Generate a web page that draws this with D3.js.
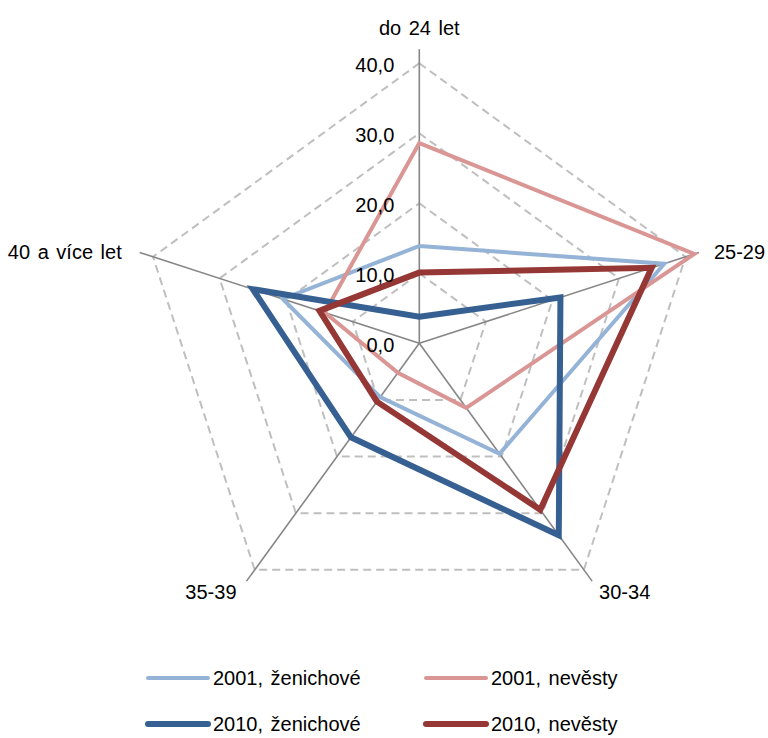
<!DOCTYPE html>
<html>
<head>
<meta charset="utf-8">
<script src="https://cdn.jsdelivr.net/npm/d3@7"></script>
<style>
  html, body { margin: 0; padding: 0; background: #ffffff; }
  svg { display: block; }
  text { font-family: "Liberation Sans", Arial, sans-serif; fill: #000; word-spacing: 2px; }
</style>
</head>
<body>
<svg id="chart" width="768" height="738"></svg>
<script>
// ---- data ----
const categories = ["do 24 let", "25-29", "30-34", "35-39", "40 a více let"];
const seriesNames = ["2001, ženichové", "2001, nevěsty", "2010, ženichové", "2010, nevěsty"];
const groom2001 = [13.9, 36.8, 19.5, 9.5, 20.5];
const bride2001 = [28.6, 41.3, 11.4, 5.2, 14.2];
const groom2010 = [3.8, 21.2, 33.9, 16.6, 25.0];
const bride2010 = [10.1, 34.9, 29.4, 10.3, 15.0];
const tickValues = [0, 10, 20, 30, 40];
const tickLabels = ["0,0", "10,0", "20,0", "30,0", "40,0"];

// ---- layout ----
const cx = 419.3, cy = 343.3;
const rScale = d3.scaleLinear().domain([0, 40]).range([0, 280]);
const axisMax = 42;
const colors = ["#95B3D7", "#D99694", "#376092", "#953735"];
const widths = [4, 4, 6, 6];
const seriesValues = [groom2001, bride2001, groom2010, bride2010];
const fontSize = "20px";

const svg = d3.select("#chart");
const g = svg.append("g").attr("transform", `translate(${cx},${cy})`);

const angle = i => (i / categories.length) * 2 * Math.PI; // clockwise from top
const pt = (i, v) => [Math.sin(angle(i)) * rScale(v), -Math.cos(angle(i)) * rScale(v)];

// grid rings (dashed)
tickValues.filter(t => t > 0).forEach(t => {
  const pts = categories.map((c, i) => pt(i, t));
  g.append("path")
    .attr("d", d3.line()(pts) + "Z")
    .attr("fill", "none")
    .attr("stroke", "#BFBFBF")
    .attr("stroke-width", 2)
    .attr("stroke-dasharray", "8,5");
});

// axis spokes
categories.forEach((c, i) => {
  const [x, y] = pt(i, axisMax);
  g.append("line")
    .attr("x1", 0).attr("y1", 0).attr("x2", x).attr("y2", y)
    .attr("stroke", "#868686")
    .attr("stroke-width", 1.6);
});

// series
const radial = d3.lineRadial()
  .angle((d, i) => angle(i))
  .radius(d => rScale(d))
  .curve(d3.curveLinearClosed);

seriesValues.forEach((vals, s) => {
  g.append("path")
    .attr("d", radial(vals))
    .attr("fill", "none")
    .attr("stroke", colors[s])
    .attr("stroke-width", widths[s])
    .attr("stroke-linejoin", "miter")
    .attr("stroke-miterlimit", 10);
});

// tick labels
tickValues.forEach((t, k) => {
  g.append("text")
    .attr("x", -25)
    .attr("y", -rScale(t) + 2)
    .attr("text-anchor", "end")
    .attr("dominant-baseline", "central")
    .style("font-size", fontSize)
    .text(tickLabels[k]);
});

// category labels
const catPos = [
  { dx: 0, dy: -21, anchor: "middle" },
  { dx: 15, dy: 0, anchor: "start" },
  { dx: 7, dy: 11, anchor: "start" },
  { dx: -10, dy: 11, anchor: "end" },
  { dx: -18, dy: 0, anchor: "end" }
];
categories.forEach((c, i) => {
  const [x, y] = pt(i, axisMax);
  g.append("text")
    .attr("x", x + catPos[i].dx)
    .attr("y", y + catPos[i].dy)
    .attr("text-anchor", catPos[i].anchor)
    .attr("dominant-baseline", "central")
    .style("font-size", fontSize)
    .text(c);
});

// legend
const legendPos = [
  { x: 148, y: 678 }, { x: 426, y: 678 },
  { x: 148, y: 724 }, { x: 426, y: 724 }
];
seriesNames.forEach((name, s) => {
  const p = legendPos[s];
  svg.append("line")
    .attr("x1", p.x).attr("x2", p.x + 60)
    .attr("y1", p.y).attr("y2", p.y)
    .attr("stroke", colors[s])
    .attr("stroke-width", widths[s])
    .attr("stroke-linecap", "round");
  svg.append("text")
    .attr("x", p.x + 65)
    .attr("y", p.y)
    .attr("dominant-baseline", "central")
    .style("font-size", fontSize)
    .text(name);
});
</script>
</body>
</html>
